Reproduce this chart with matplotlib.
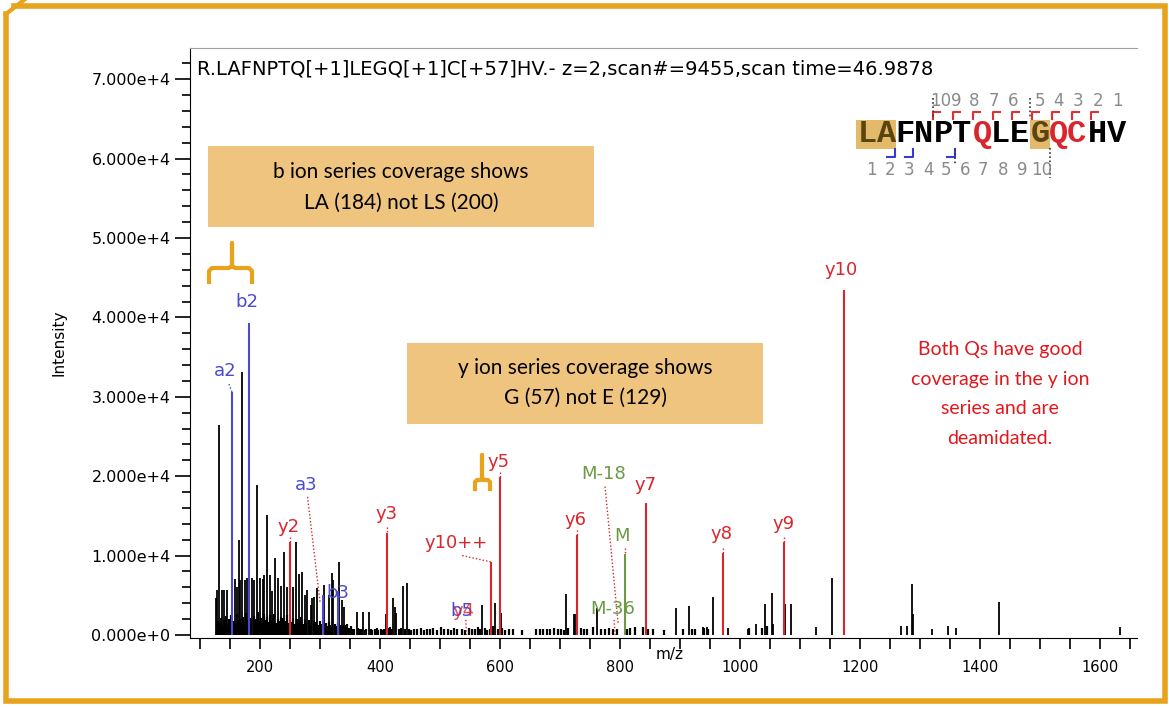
import matplotlib
matplotlib.use("Agg")
import matplotlib.pyplot as plt
from matplotlib.ticker import MultipleLocator, FuncFormatter
from matplotlib.patches import Rectangle

# --- unlabeled spectrum peaks (m/z, intensity) ---
peak_mz = [126, 128, 132, 137, 140, 145, 158, 162, 165, 167, 170, 175, 178, 187, 190, 195, 200,
           205, 207, 212, 217, 220, 225, 230, 235, 240, 245, 255, 260, 265, 270, 275, 278, 285,
           287, 290, 295, 307, 315, 320, 322, 332, 336, 340, 361, 371, 381,
           410, 422, 425, 427, 438, 445, 570, 592, 601, 710, 723, 725, 762, 893, 915,
           938, 945, 955, 980, 1013, 1026, 1042, 1053, 1055, 1075, 1085, 1127, 1153,
           1268, 1278, 1287, 1288, 1320, 1347, 1360, 1432, 1633]
peak_int = [4700, 5700, 26400, 5700, 5700, 5700, 7000, 6000, 12000, 6900, 33100, 6900, 7200, 7200, 6900, 18900, 7200,
            7000, 7500, 15100, 7600, 5500, 9700, 7200, 6200, 10400, 6000, 6000, 11700, 7700, 7900, 5000, 5700, 3800,
            4700, 4800, 5900, 6300, 5000, 7800, 6900, 9200, 4400, 3500, 2900, 2900, 2900,
            2600, 4700, 3500, 2800, 6200, 6500, 3800, 4000, 2800, 5200, 2700, 2600, 3400, 3400, 3700,
            1000, 1000, 4800, 900, 800, 1400, 3900, 5300, 1400, 3900, 3900, 1000, 7200,
            1100, 1100, 6400, 2700, 800, 1100, 900, 4100, 1000]

# low-level noise peaks
grass_mz = [130, 133, 135, 137, 139, 141, 143, 146, 148, 150, 152, 155, 157, 159, 161, 163, 166, 168,
            172, 174, 176, 178, 183, 185, 189, 191, 193, 197, 199, 202, 204, 206, 209, 211, 214, 216,
            218, 221, 223, 227, 229, 232, 234, 236, 238, 242, 244, 247, 249, 252, 254, 258, 262, 264,
            266, 268, 272, 274, 276, 281, 283, 289, 291, 293, 297, 299, 301, 304, 309, 311, 314, 316,
            318, 325, 327, 329, 334, 338, 341, 343, 345, 348, 351, 354, 357, 363, 366, 369, 374, 377,
            384, 387, 391, 394, 397, 401, 404, 407, 413, 416, 419, 431, 434, 441, 448, 452, 456,
            462, 468, 473, 478, 484, 489, 495, 502, 507, 513, 518, 524, 529, 536, 541, 548, 553, 558,
            563, 567, 575, 579, 584, 589, 596, 604, 609, 615, 622, 636, 660, 666, 672, 678, 684, 690,
            696, 702, 706, 714, 735, 740, 745, 755, 768, 775, 781, 788, 795, 812, 817, 825, 838, 847,
            855, 873, 905, 920, 925, 940, 947, 1015, 1037, 1045]
grass_int = [1800, 1500, 2200, 1200, 1900, 1400, 2400, 1300, 2000, 1600, 2500, 1200, 1800, 1400, 2600, 1700, 2000, 1500,
             2300, 1600, 2800, 1900, 2100, 1700, 2400, 1500, 2000, 2900, 1800, 2200, 1500, 2700, 1900, 2300, 1600, 2500,
             1800, 2200, 2700, 1500, 2000, 1700, 2300, 1400, 2100, 1700, 2500, 1500, 1900, 1600, 2200, 1400, 2000, 1500,
             1800, 2300, 1400, 2000, 1500, 1900, 1300, 1700, 1200, 1600, 1300, 1800, 1400, 1200, 1500, 1100, 1600, 1200,
             1000, 1400, 1100, 1500, 1200, 1300, 1000, 1200, 1400, 900, 1100, 800, 700, 900, 700, 800, 600, 700,
             800, 600, 700, 900, 600, 800, 600, 700, 900, 1000, 700, 800, 900, 700, 800, 600, 700,
             700, 900, 600, 800, 700, 900, 600, 1000, 700, 800, 600, 900, 700, 800, 600, 900, 700, 800,
             1000, 700, 900, 600, 800, 1100, 700, 900, 600, 800, 700, 600, 700, 800, 700, 800, 700, 900,
             700, 800, 600, 900, 900, 700, 800, 1000, 700, 800, 900, 800, 700, 800, 900, 1000, 1000, 800,
             700, 600, 700, 800, 700, 900, 800, 900, 900, 1100]

# --- annotated fragment ions ---
ion_labels = ["a2", "b2", "a3", "b3", "y2", "y3", "y10++", "y5", "y6", "M", "y7", "y8", "y9", "y10"]
ion_mz = [153, 181, 304, 330, 250, 412, 585, 600, 728, 808, 843, 972, 1073, 1173]
ion_int = [30600, 39300, 5000, 5500, 11700, 12800, 9200, 19900, 12600, 10200, 16600, 10300, 11700, 43500]
ion_series = ["b", "b", "b", "b", "y", "y", "y", "y", "y", "M", "y", "y", "y", "y"]

BLUE = "#4a4ad0"
RED = "#d9262c"
GREEN = "#6b9a45"
ORANGE = "#e8a31c"
TAN = "#eec47e"
series_color = {"b": BLUE, "y": RED, "M": GREEN}

# label placement (m/z, intensity) for each annotated ion, plus leader start
label_pos = {
    "a2": (141, 33200, 148, 31600), "b2": (178, 41900, None, None),
    "a3": (277, 18900, 279, 17400), "b3": (330, 5300, None, None),
    "y2": (248, 13600, 250, 12300), "y3": (411, 15200, 412, 13600),
    "y10++": (527, 11600, 537, 10000), "y5": (598, 21800, 600, 20500),
    "y6": (725, 14500, 728, 13200), "M": (804, 12500, 808, 10900),
    "y7": (842, 18900, None, None), "y8": (970, 12700, 972, 11000),
    "y9": (1072, 14000, 1073, 12400), "y10": (1168, 46000, None, None),
}
leader_end = {"a3": (300, 4000)}

fig = plt.figure(figsize=(11.69, 7.07), dpi=100)
W, H = 1169, 707
ax = fig.add_axes([190 / W, 1 - 638 / H, (1137 - 190) / W, (638 - 48) / H])
ax.set_xlim(83, 1662)
ax.set_ylim(-380, 73930)

ax.vlines(grass_mz, 0, grass_int, colors="black", lw=1.6)
ax.vlines(peak_mz, 0, peak_int, colors="black", lw=1.3)
for lab, mz, it, s in zip(ion_labels, ion_mz, ion_int, ion_series):
    c = series_color[s]
    ax.vlines(mz, 0, it, colors=c, lw=1.5, zorder=3)
    lx, ly, sx, sy = label_pos[lab]
    ax.text(lx, ly, lab, color=c, fontsize=13, ha="center", va="center", zorder=4)
    if sx is not None:
        ex, ey = leader_end.get(lab, (mz, it))
        ax.plot([sx, ex], [sy, ey], color=RED if s != "b" or lab == "a3" else c,
                ls=(0, (1, 1.5)), lw=1.0, zorder=4)

# neutral-loss / small labels
ax.text(772, 20300, "M-18", color=GREEN, fontsize=13, ha="center", va="center")
ax.plot([775, 797], [18700, 1300], color=RED, ls=(0, (1, 1.5)), lw=1.0)
ax.text(787, 3300, "M-36", color=GREEN, fontsize=13, ha="center", va="center")
ax.plot([790, 792], [1900, 0], color=RED, ls=(0, (1, 1.5)), lw=1.0)
ax.text(537, 3000, "b5", color=BLUE, fontsize=13, ha="center", va="center")
ax.text(539, 3000, "y4", color=RED, fontsize=13, ha="center", va="center", alpha=0.8)
ax.plot([543, 544], [1900, 0], color=RED, ls=(0, (1, 1.5)), lw=1.0)

ax.text(95, 71300, "R.LAFNPTQ[+1]LEGQ[+1]C[+57]HV.- z=2,scan#=9455,scan time=46.9878",
        fontsize=14, ha="left", va="center")

# axes styling
ax.spines["right"].set_visible(False)
ax.spines["top"].set_color("#a0a0a0")
ax.yaxis.set_major_locator(MultipleLocator(10000))
ax.yaxis.set_minor_locator(MultipleLocator(2000))
ax.xaxis.set_major_locator(MultipleLocator(200))
ax.xaxis.set_minor_locator(MultipleLocator(50))
ax.yaxis.set_major_formatter(FuncFormatter(
    lambda v, p: "0.000e+0" if v == 0 else "%.3fe+4" % (v / 1e4)))
ax.tick_params(axis="y", which="major", length=11, width=1.2, labelsize=11.5, pad=3)
ax.tick_params(axis="y", which="minor", length=6, width=1.2)
ax.tick_params(axis="x", which="both", length=8, width=1.2, labelsize=10.5, pad=8)
ax.set_ylabel("Intensity", fontsize=11, labelpad=18)
fig.text(670 / W, 1 - 655 / H, "m/z", fontsize=11, ha="center", va="center")

# --- overlay in pixel coordinates for call-outs ---
ov = fig.add_axes([0, 0, 1, 1], zorder=5)
ov.set_xlim(0, W)
ov.set_ylim(H, 0)
ov.axis("off")
ov.patch.set_alpha(0)

# frame
ov.plot([14, 1165, 1165, 6, 6], [6, 6, 701, 701, 14], color=ORANGE, lw=4, solid_joinstyle="miter")
ov.plot([6, 24], [14, 0], color=ORANGE, lw=3)

box_font = "Lato"
ov.add_patch(Rectangle((208, 146), 386, 81, color=TAN, lw=0))
ov.text(401, 172, "b ion series coverage shows", fontsize=15, family=box_font, ha="center", va="center")
ov.text(401, 203, "LA (184) not LS (200)", fontsize=15, family=box_font, ha="center", va="center")
ov.add_patch(Rectangle((407, 343), 356, 81, color=TAN, lw=0))
ov.text(585, 368, "y ion series coverage shows", fontsize=15, family=box_font, ha="center", va="center")
ov.text(585, 398, "G (57) not E (129)", fontsize=15, family=box_font, ha="center", va="center")

for i, line in enumerate(["Both Qs have good", "coverage in the y ion", "series and are", "deamidated."]):
    ov.text(1000, 350 + i * 29.5, line, fontsize=14, family=box_font, color="#e3161b",
            ha="center", va="center")

# curly brackets
ov.plot([209, 209, 212, 229, 232, 232, 232, 235, 249, 252, 252],
        [282, 271, 268, 268, 266, 243, 266, 268, 268, 271, 282], color=ORANGE, lw=3)
ov.plot([475, 475, 477, 481, 482, 482, 482, 484, 488, 490, 490],
        [489, 482, 480, 480, 478, 455, 478, 480, 480, 482, 489], color=ORANGE, lw=3)

# peptide sequence graphic
seq = "LAFNPTQLEGQCHV"
seq_x = [867, 887, 905, 924, 943, 962, 982, 1000, 1019, 1040, 1058, 1076, 1097, 1117]
seq_col = {6: RED, 10: RED, 11: RED}
ov.add_patch(Rectangle((856, 120), 40, 29, color="#e3b96a", lw=0))
ov.add_patch(Rectangle((1030, 120), 20, 29, color="#e3b96a", lw=0))
for i, (ch, x) in enumerate(zip(seq, seq_x)):
    col = seq_col.get(i, "#5a4512" if i in (0, 1, 9) else "black")
    ov.text(x, 134, ch, fontsize=23, family="Liberation Mono", weight="bold", color=col,
            ha="center", va="center")
top_nums = ["10", "9", "8", "7", "6", "5", "4", "3", "2", "1"]
top_x = [941, 956, 974, 994, 1013, 1040, 1058, 1078, 1098, 1117]
for t, x in zip(top_nums, top_x):
    ov.text(x, 101, t, fontsize=12, color="#8a8a8a", ha="center", va="center")
bot_x = [871, 890, 909, 928, 946, 965, 983, 1003, 1022, 1042]
for k, x in enumerate(bot_x):
    ov.text(x, 170, str(k + 1), fontsize=12, color="#8a8a8a", ha="center", va="center")
for x in [933, 953, 973, 993, 1012, 1032, 1052, 1072, 1091]:
    ov.plot([x, x, x + 7], [119, 112, 112], color="#e03030", lw=1.5)
for x in [895, 913, 955]:
    ov.plot([x - 8, x, x], [157, 157, 149], color="#3a3ad0", lw=1.5)
ov.plot([933, 933], [98, 119], color="#333333", ls=(0, (1, 1.5)), lw=1.2)
ov.plot([1030, 1030], [98, 119], color="#333333", ls=(0, (1, 1.5)), lw=1.2)
ov.plot([955, 955], [149, 165], color="#333333", ls=(0, (1, 1.5)), lw=1.2)
ov.plot([1050, 1050], [148, 178], color="#333333", ls=(0, (1, 1.5)), lw=1.2)

fig.savefig("out.png", dpi=100)
